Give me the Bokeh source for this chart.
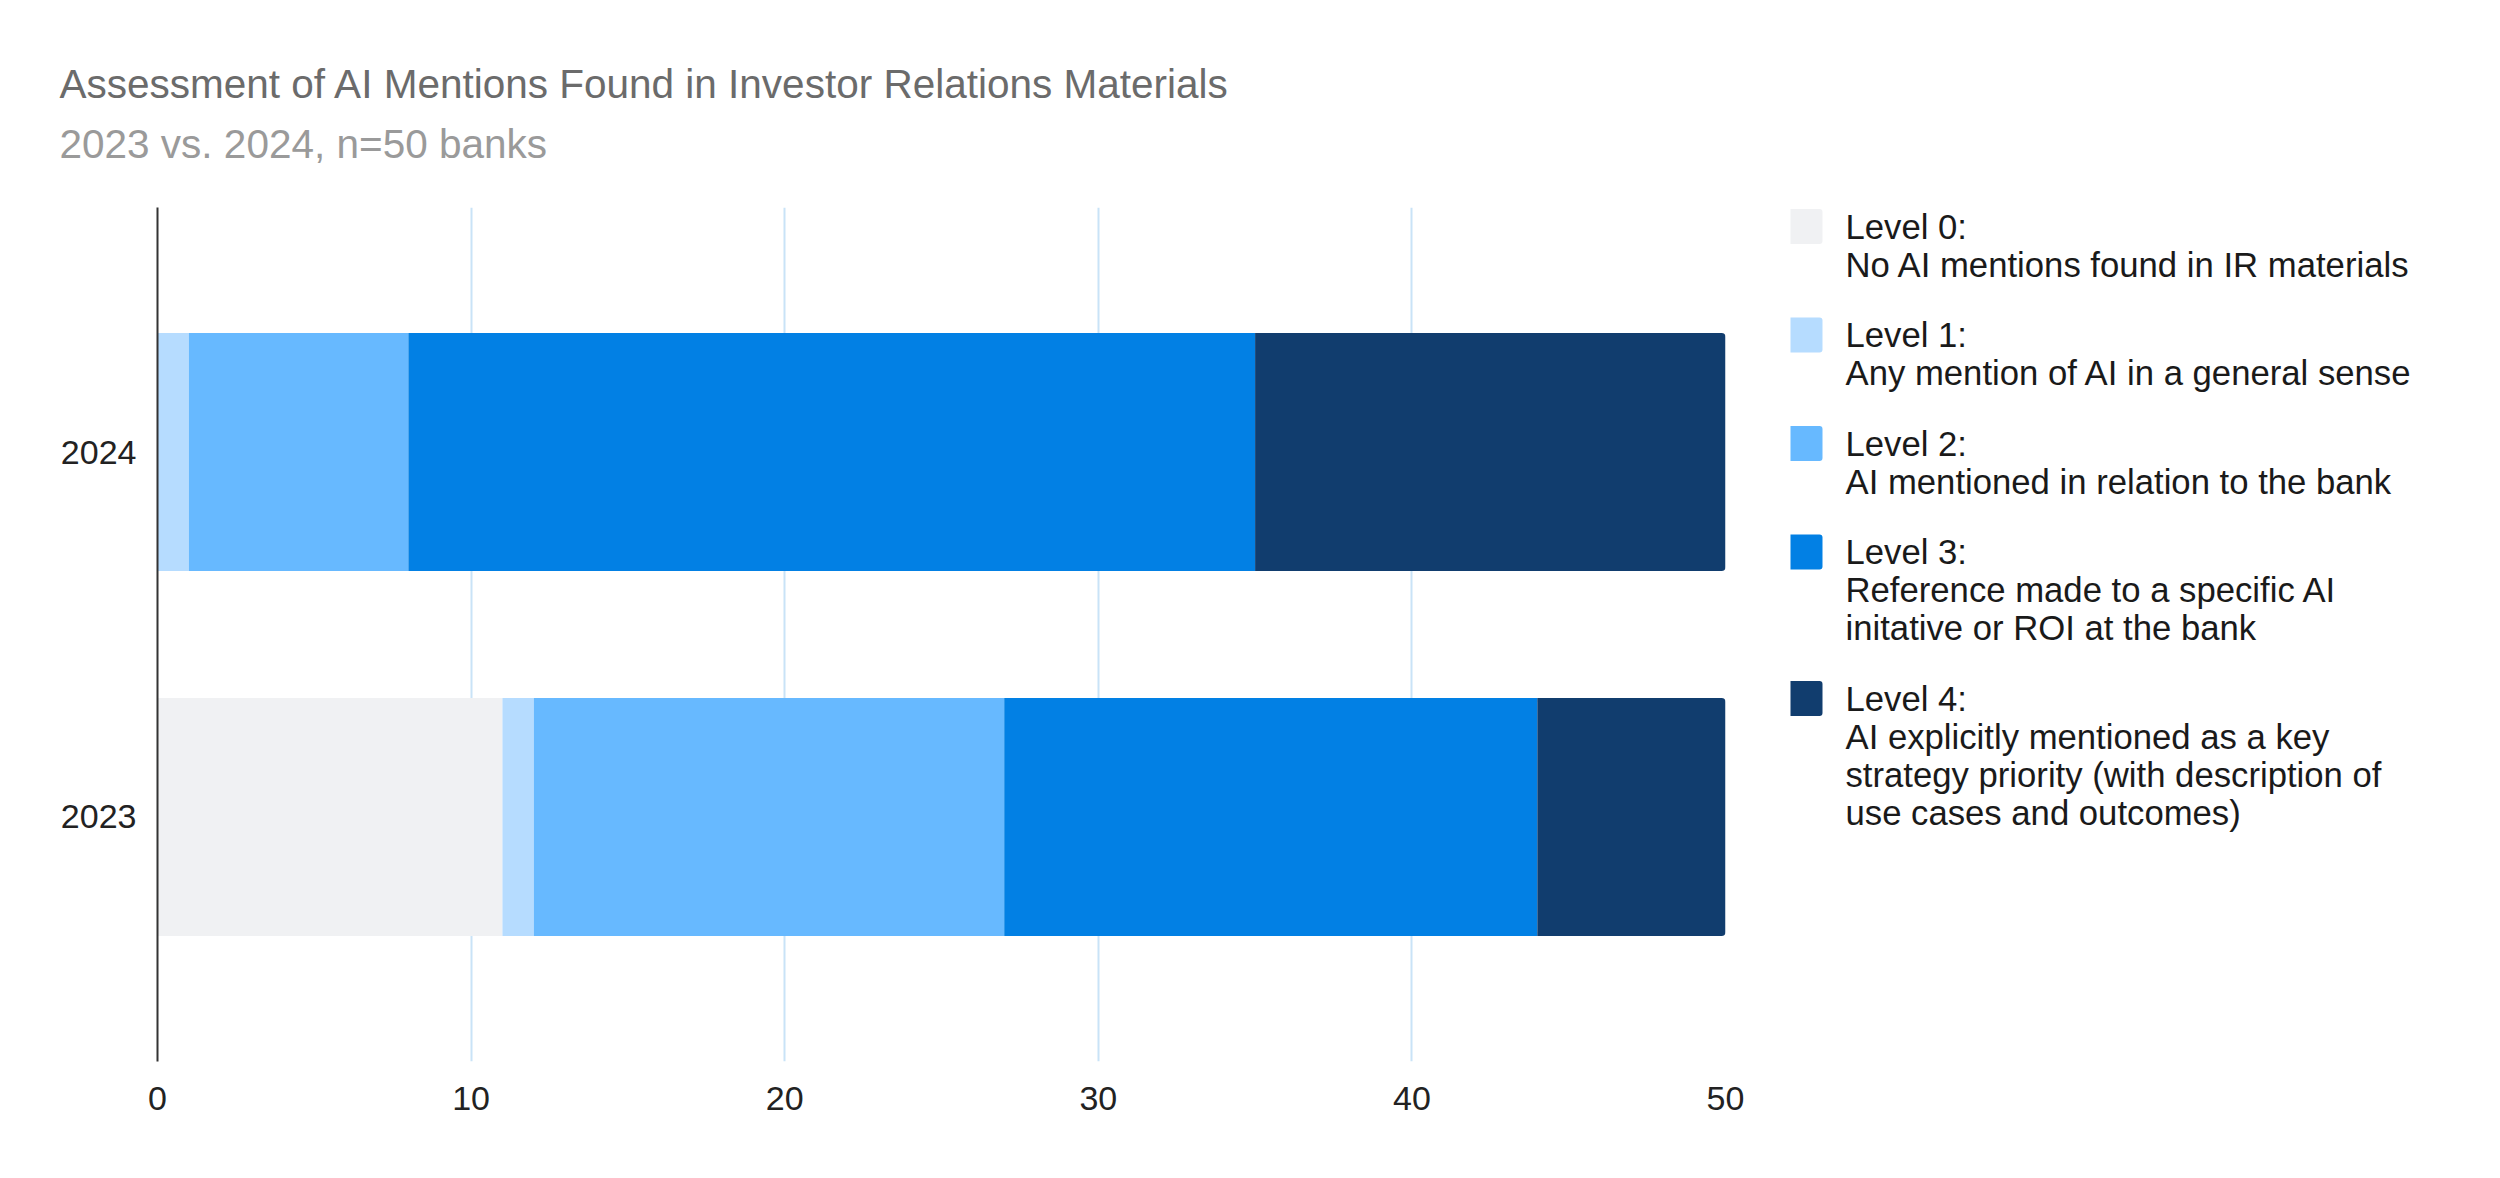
from bokeh.plotting import figure
from bokeh.models import ColumnDataSource, FactorRange, Range1d, FixedTicker
from bokeh.layouts import column, row
from bokeh.core.properties import value
from bokeh.embed import file_html
from bokeh.resources import INLINE

# ---------------- data ----------------
title_text = "Assessment of AI Mentions Found in Investor Relations Materials"
subtitle_text = "2023 vs. 2024, n=50 banks"
years = ["2023", "2024"]
level0 = [11, 0]
level1 = [1, 1]
level2 = [15, 7]
level3 = [17, 27]
level4 = [6, 15]
x_ticks = [0, 10, 20, 30, 40, 50]
level_keys = ["level0", "level1", "level2", "level3", "level4"]
level_colors = ["#f0f1f3", "#b6dcff", "#67b9ff", "#0280e4", "#113d6e"]
legend_labels = [
    ["Level 0:", "No AI mentions found in IR materials"],
    ["Level 1:", "Any mention of AI in a general sense"],
    ["Level 2:", "AI mentioned in relation to the bank"],
    ["Level 3:", "Reference made to a specific AI", "initative or ROI at the bank"],
    ["Level 4:", "AI explicitly mentioned as a key",
     "strategy priority (with description of", "use cases and outcomes)"],
]

FONT = value("Liberation Sans")
W, H = 2500, 1178
HEADER_H = 190
CHART_W = 1790
B_TOP, B_BOTTOM = 17, 117          # chart borders inside the lower row
FRAME_TOP = HEADER_H + B_TOP        # canvas y of frame top
FRAME_BOTTOM = H - B_BOTTOM         # canvas y of frame bottom

# ---------------- header ----------------
header = figure(width=W, height=HEADER_H, x_range=Range1d(0, W), y_range=Range1d(HEADER_H, 0),
                x_axis_type=None, y_axis_type=None, toolbar_location=None,
                output_backend="svg", min_border=0, outline_line_color=None)
header.grid.visible = False
header.text(x=[59], y=[83], text=[title_text], text_font=FONT, text_font_size="40.5px",
            text_color="#6b6b6b", text_baseline="middle", text_align="left")
header.text(x=[59], y=[143], text=[subtitle_text], text_font=FONT, text_font_size="40.5px",
            text_color="#9a9a9a", text_baseline="middle", text_align="left")

# ---------------- chart ----------------
source = ColumnDataSource(dict(year=years, level0=level0, level1=level1,
                               level2=level2, level3=level3, level4=level4))

p = figure(width=CHART_W, height=H - HEADER_H,
           y_range=FactorRange(factors=years, range_padding=0.17, range_padding_units="absolute"),
           x_range=Range1d(0, 50), toolbar_location=None, output_backend="svg",
           min_border_left=157, min_border_right=65, min_border_top=B_TOP,
           min_border_bottom=B_BOTTOM, outline_line_color=None)

rs = p.hbar_stack(level_keys, y="year", height=0.652, color=level_colors,
                  line_color=None, source=source)
rs[-1].glyph.border_radius = (0, 4, 4, 0)

p.xaxis.ticker = FixedTicker(ticks=x_ticks)
p.xaxis.axis_line_color = None
p.xaxis.major_tick_line_color = None
p.xaxis.minor_tick_line_color = None
p.xaxis.major_label_standoff = 19
p.xaxis.major_label_text_font = "Liberation Sans"
p.xaxis.major_label_text_font_size = "34px"
p.xaxis.major_label_text_color = "#222222"

p.yaxis.axis_line_color = "#333333"
p.yaxis.axis_line_width = 2
p.yaxis.major_tick_line_color = None
p.yaxis.minor_tick_line_color = None
p.yaxis.major_label_standoff = 15
p.yaxis.major_label_text_font = "Liberation Sans"
p.yaxis.major_label_text_font_size = "34px"
p.yaxis.major_label_text_color = "#222222"

p.xgrid.ticker = FixedTicker(ticks=x_ticks)
p.xgrid.grid_line_color = "#c9e3f7"
p.xgrid.grid_line_width = 2
p.ygrid.visible = False

# ---------------- legend ----------------
lg = figure(width=W - CHART_W, height=H - HEADER_H, x_range=Range1d(CHART_W, W),
            y_range=Range1d(FRAME_BOTTOM, FRAME_TOP), x_axis_type=None, y_axis_type=None,
            toolbar_location=None, output_backend="svg", min_border_left=0, min_border_right=0,
            min_border_top=B_TOP, min_border_bottom=B_BOTTOM, outline_line_color=None)
lg.grid.visible = False

line_h = 38
gap = 32.5
y0 = 226
sq_x, sq_size, txt_x = 1804.5, 35, 1845
sq_y, tx, ty, tt = [], [], [], []
cur = y0
for lines in legend_labels:
    sq_y.append(cur)
    for i, t in enumerate(lines):
        tx.append(txt_x)
        ty.append(cur + i * line_h)
        tt.append(t)
    cur += len(lines) * line_h + gap

sq = lg.rect(x=[sq_x] * len(sq_y), y=sq_y, width=sq_size, height=sq_size,
             fill_color=level_colors, line_color=None)
sq.glyph.border_radius = 3
lg.text(x=tx, y=ty, text=tt, text_font=FONT, text_font_size="34.7px",
        text_color="#1a1a1a", text_baseline="middle", text_align="left")

layout = column(header, row(p, lg, spacing=0), spacing=0)
open("out.html", "w").write(file_html(layout, INLINE))
